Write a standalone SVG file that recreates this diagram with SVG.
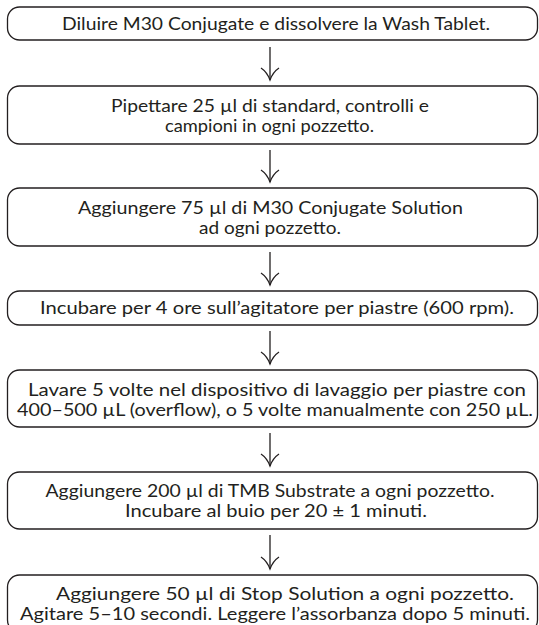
<svg xmlns="http://www.w3.org/2000/svg" width="539" height="625" viewBox="0 0 539 625">
<defs>
<style>
.box{fill:#ffffff;stroke:#231f20;stroke-width:1.3}
.t{font-family:Lato,"Open Sans","Liberation Sans",sans-serif;font-size:16.5px;fill:#231f20;text-anchor:middle}
.c line{stroke:#231f20;stroke-width:1.3}
.c path{fill:none;stroke:#231f20;stroke-width:1.3;stroke-linejoin:miter}
</style>
</defs>
<rect width="539" height="625" fill="#ffffff"/>
<g class="c" id="connectors">
<line x1="270" y1="47" x2="270" y2="80"/><path d="M261,68 Q267,72 270,80 Q273,72 279,68"/>
<line x1="270" y1="150" x2="270" y2="182"/><path d="M261,170 Q267,174 270,182 Q273,174 279,170"/>
<line x1="270" y1="252" x2="270" y2="285"/><path d="M261,273 Q267,277 270,285 Q273,277 279,273"/>
<line x1="270" y1="331" x2="270" y2="364"/><path d="M261,352 Q267,356 270,364 Q273,356 279,352"/>
<line x1="270" y1="433" x2="270" y2="466"/><path d="M261,454 Q267,458 270,466 Q273,458 279,454"/>
<line x1="270" y1="535" x2="270" y2="569"/><path d="M261,557 Q267,561 270,569 Q273,561 279,557"/>
</g>
<g id="step1"><rect class="box" x="7.5" y="7" width="530" height="33" rx="12"/>
<text class="t" x="276" y="30" textLength="428" lengthAdjust="spacingAndGlyphs">Diluire M30 Conjugate e dissolvere la Wash Tablet.</text></g>
<g id="step2"><rect class="box" x="7.5" y="86" width="530" height="58" rx="12"/>
<text class="t" x="270" y="111.5" textLength="318" lengthAdjust="spacingAndGlyphs">Pipettare 25 µl di standard, controlli e</text>
<text class="t" x="269.5" y="131.5" textLength="209" lengthAdjust="spacingAndGlyphs">campioni in ogni pozzetto.</text></g>
<g id="step3"><rect class="box" x="7.5" y="188" width="530" height="58" rx="12"/>
<text class="t" x="270.5" y="213.5" textLength="385" lengthAdjust="spacingAndGlyphs">Aggiungere 75 µl di M30 Conjugate Solution</text>
<text class="t" x="270" y="233.5" textLength="142" lengthAdjust="spacingAndGlyphs">ad ogni pozzetto.</text></g>
<g id="step4"><rect class="box" x="7.5" y="291" width="530" height="34" rx="12"/>
<text class="t" x="277" y="314" textLength="474" lengthAdjust="spacingAndGlyphs">Incubare per 4 ore sull’agitatore per piastre (600 rpm).</text></g>
<g id="step5"><rect class="box" x="7.5" y="370" width="530" height="57" rx="12"/>
<text class="t" x="277" y="395.5" textLength="498" lengthAdjust="spacingAndGlyphs">Lavare 5 volte nel dispositivo di lavaggio per piastre con</text>
<text class="t" x="275" y="415.5" textLength="516" lengthAdjust="spacingAndGlyphs">400–500 µL (overflow), o 5 volte manualmente con 250 µL.</text></g>
<g id="step6"><rect class="box" x="7.5" y="472" width="530" height="57" rx="12"/>
<text class="t" x="270" y="497" textLength="449" lengthAdjust="spacingAndGlyphs">Aggiungere 200 µl di TMB Substrate a ogni pozzetto.</text>
<text class="t" x="276" y="517" textLength="302" lengthAdjust="spacingAndGlyphs">Incubare al buio per 20 ± 1 minuti.</text></g>
<g id="step7"><rect class="box" x="7.5" y="575" width="530" height="57" rx="12"/>
<text class="t" x="285" y="600" textLength="458" lengthAdjust="spacingAndGlyphs">Aggiungere 50 µl di Stop Solution a ogni pozzetto.</text>
<text class="t" x="275" y="620" textLength="510" lengthAdjust="spacingAndGlyphs">Agitare 5–10 secondi. Leggere l’assorbanza dopo 5 minuti.</text></g>
</svg>
